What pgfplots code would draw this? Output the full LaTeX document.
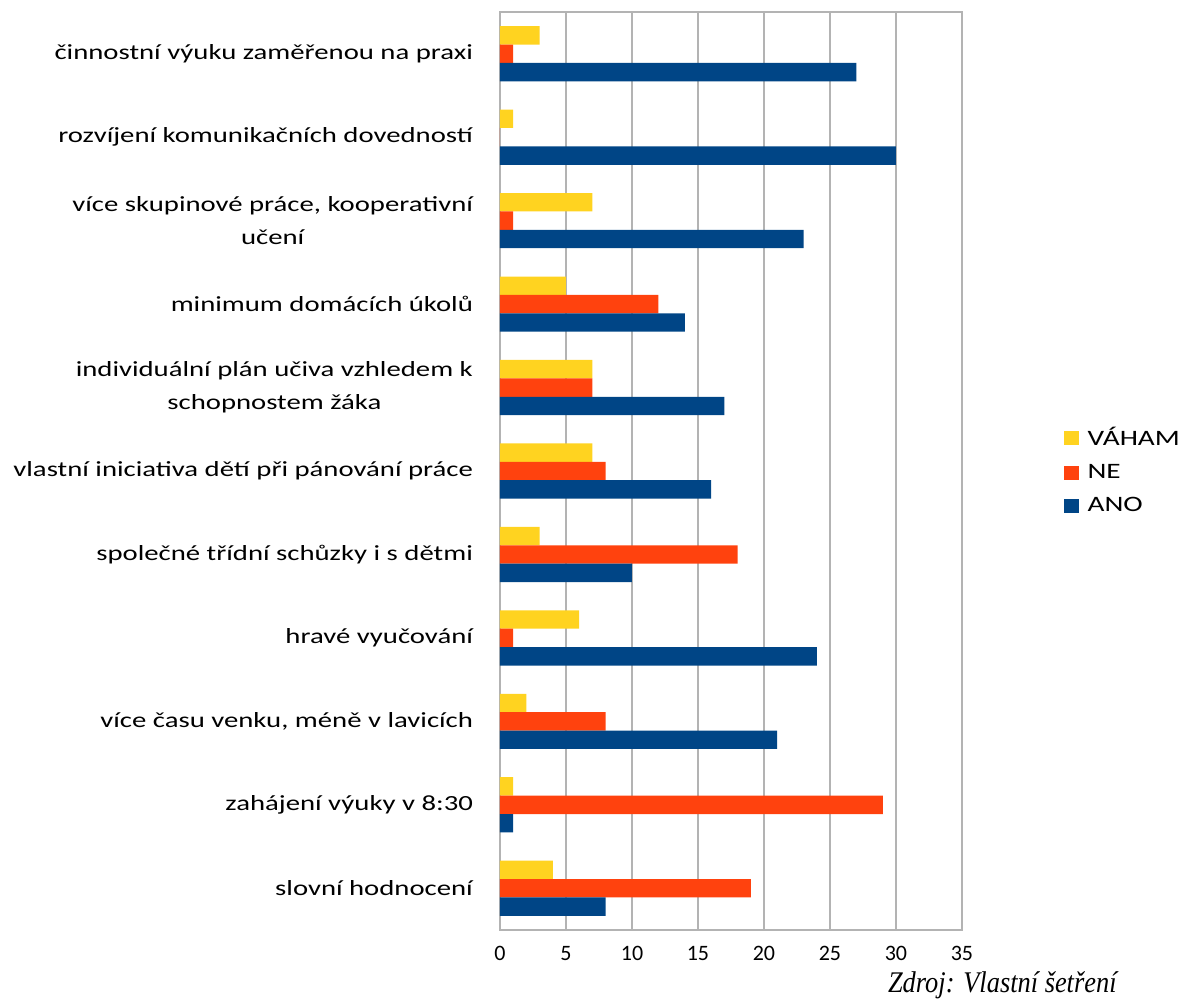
\documentclass[border=0pt]{standalone}
\usepackage{pgfplots}
\pgfplotsset{compat=1.18}
\usepackage{fontspec}
\setmainfont{Carlito}
\newfontfamily\labelfont[FakeStretch=1.33]{Carlito}
\newfontfamily\srcfont[FakeStretch=0.88]{Liberation Serif}
\definecolor{cano}{HTML}{004586}
\definecolor{cne}{HTML}{FF420E}
\definecolor{cvah}{HTML}{FFD320}
\definecolor{cgrid}{HTML}{B3B3B3}
\pgfplotstableread{
idx vaham ne ano
0 3 1 27
1 1 0 30
2 7 1 23
3 5 12 14
4 7 7 17
5 7 8 16
6 3 18 10
7 6 1 24
8 2 8 21
9 1 29 1
10 4 19 8
}\datatable
\begin{document}
\begin{tikzpicture}
\path[use as bounding box] (0,0) rectangle (590pt,499pt);
\begin{axis}[
  at={(250pt,34pt)}, anchor=south west,
  scale only axis, width=231pt, height=459pt,
  xbar, bar width=9.2pt,
  xmin=0, xmax=35, xtick={0,5,...,35},
  ymin=-0.5, ymax=10.5, y dir=reverse,
  ytick={0,...,10},
  yticklabels={
    {činnostní výuku zaměřenou na praxi},
    {rozvíjení komunikačních dovedností},
    {více skupinové práce, kooperativní\\učení},
    {minimum domácích úkolů},
    {individuální plán učiva vzhledem k\\schopnostem žáka},
    {vlastní iniciativa dětí při pánování práce},
    {společné třídní schůzky i s dětmi},
    {hravé vyučování},
    {více času venku, méně v lavicích},
    {zahájení výuky v 8:30},
    {slovní hodnocení}},
  yticklabel style={align=center, font=\labelfont\fontsize{10.8}{16.5}\selectfont, xshift=-10pt},
  xticklabel style={font=\fontsize{11}{13}\selectfont, inner sep=0pt, anchor=north, yshift=-8pt},
  /pgf/number format/assume math mode=true,
  major tick length=0pt,
  xmajorgrids, grid style={cgrid, line width=1.2pt},
  axis line style={cgrid, line width=1.2pt},
  legend style={at={(1.219,0.5)}, anchor=west, draw=none, fill=none, inner sep=0pt,
    font=\labelfont\fontsize{11}{13}\selectfont, row sep=8pt,
    nodes={inner sep=0pt, outer sep=0pt}},
  legend cell align=left,
  legend image code/.code={\fill[#1] (0pt,-3.5pt) rectangle (7.5pt,3.5pt);},
  /tikz/every odd column/.append style={column sep=4.5pt},
]
\addplot[fill=cvah, draw=none, bar shift=9.2pt] table[x=vaham, y=idx] {\datatable};
\addplot[fill=cne, draw=none, bar shift=0pt] table[x=ne, y=idx] {\datatable};
\addplot[fill=cano, draw=none, bar shift=-9.2pt] table[x=ano, y=idx] {\datatable};
\legend{VÁHAM, NE, ANO}
\end{axis}
\node[anchor=base east, inner sep=0pt, font=\srcfont\itshape\fontsize{15}{17}\selectfont] at (558.5pt,3pt) {Zdroj: Vlastní šetření};
\end{tikzpicture}
\end{document}
